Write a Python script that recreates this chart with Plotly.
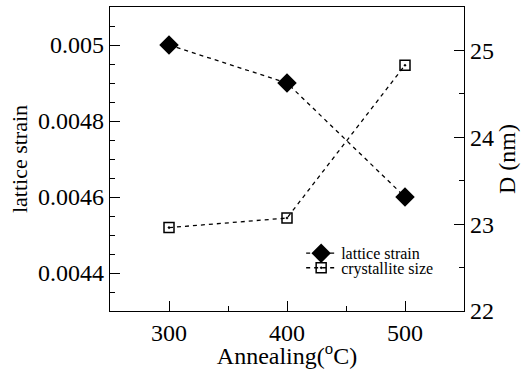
import plotly.graph_objects as go

annealing = [300, 400, 500]
lattice_strain = [0.0050, 0.0049, 0.0046]
crystallite_size = [22.96, 23.07, 24.83]
x_ticks = [300, 400, 500]
strain_ticks = [0.0044, 0.0046, 0.0048, 0.005]
strain_labels = ["0.0044", "0.0046", "0.0048", "0.005"]
size_ticks = [22, 23, 24, 25]

FONT = "Liberation Serif"

fig = go.Figure()
fig.add_trace(go.Scatter(
    x=annealing, y=lattice_strain, name="lattice strain", mode="lines+markers",
    legend="legend",
    line=dict(color="black", width=1.3, dash="4px,4px"),
    marker=dict(symbol="diamond", size=15, color="black")))
fig.add_trace(go.Scatter(
    x=annealing, y=crystallite_size, name="crystallite size", yaxis="y2",
    mode="lines+markers", legend="legend2",
    line=dict(color="black", width=1.3, dash="4px,4px"),
    marker=dict(symbol="square-open-dot", size=10, color="black",
                line=dict(width=1.5, color="black"))))

axis_common = dict(showgrid=False, zeroline=False, showline=True,
                   linecolor="black", linewidth=1.3, ticks="inside",
                   ticklen=10, tickwidth=1.3, tickcolor="black",
                   tickfont=dict(size=24, color="black", family=FONT))

legend_common = dict(xanchor="left", yanchor="middle", bgcolor="rgba(0,0,0,0)",
                     font=dict(size=16, family=FONT, color="black"))

fig.update_layout(
    width=521, height=369,
    margin=dict(l=110, r=57, t=6, b=51),
    paper_bgcolor="white", plot_bgcolor="white",
    font=dict(family=FONT, color="black"),
    showlegend=True,
    legend=dict(x=0.54, y=0.19, **legend_common),
    legend2=dict(x=0.54, y=0.142, **legend_common),
    xaxis=dict(range=[250, 550], tickmode="array", tickvals=x_ticks,
               mirror=True,
               minor=dict(dtick=50, tick0=250, ticks="inside", ticklen=5,
                          tickwidth=1.3, tickcolor="black"),
               title=dict(text="Annealing(<sup>o</sup>C)",
                          font=dict(size=24, family=FONT), standoff=0),
               **axis_common),
    yaxis=dict(range=[0.0043, 0.0051], tickmode="array", tickvals=strain_ticks,
               ticktext=strain_labels,
               minor=dict(dtick=0.00005, tick0=0.0043, ticks="inside", ticklen=5,
                          tickwidth=1.3, tickcolor="black"),
               title=dict(text="lattice strain",
                          font=dict(size=22, family=FONT), standoff=4),
               **axis_common),
    yaxis2=dict(range=[22, 25.5], tickmode="array", tickvals=size_ticks,
                overlaying="y", side="right",
                minor=dict(dtick=0.5, tick0=22, ticks="inside", ticklen=5,
                           tickwidth=1.3, tickcolor="black"),
                title=dict(text="D (nm)", font=dict(size=24, family=FONT),
                           standoff=4),
                **axis_common),
)

fig.write_html("out.html",
               config={"displayModeBar": False},
               post_script="document.body.style.margin='0';")
